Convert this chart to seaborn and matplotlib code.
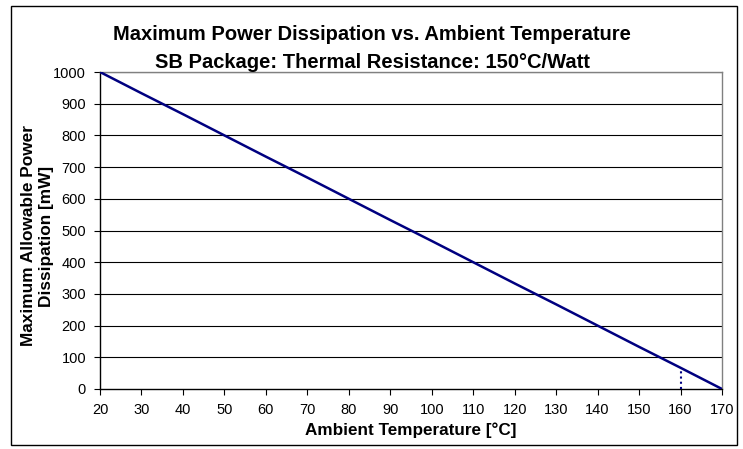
import matplotlib
matplotlib.use("Agg")
import matplotlib.pyplot as plt
import seaborn as sns
import pandas as pd
from matplotlib.patches import Rectangle

sns.set_theme(style="white")
plt.rcParams['font.family'] = ['Liberation Sans', 'DejaVu Sans']
plt.rcParams['text.color'] = 'black'
plt.rcParams['xtick.color'] = 'black'
plt.rcParams['ytick.color'] = 'black'

temps = [20, 30, 40, 50, 60, 70, 80, 90, 100, 110, 120, 130, 140, 150, 160, 170]
power = [1000, 933, 867, 800, 733, 667, 600, 533, 467, 400, 333, 267, 200, 133, 67, 0]
derate_x = [160, 160]
derate_y = [0, 67]
xticks = list(range(20, 171, 10))
yticks = list(range(0, 1001, 100))

title1 = "Maximum Power Dissipation vs. Ambient Temperature"
title2 = "SB Package: Thermal Resistance: 150°C/Watt"
xlabel = "Ambient Temperature [°C]"
ylabel = "Maximum Allowable Power\nDissipation [mW]"

df = pd.DataFrame({"T": temps, "P": power})

fig = plt.figure(figsize=(7.43, 4.49), dpi=100)
W, H = 743, 449
ax = fig.add_axes([100 / W, 1 - 389 / H, (722 - 100) / W, (389 - 72) / H])

ax.set_axisbelow(True)
for y in yticks[1:]:
    ax.axhline(y, color="black", lw=0.8, zorder=0)

sns.lineplot(data=df, x="T", y="P", ax=ax, color="#000080", lw=1.8, zorder=3)
ax.plot(derate_x, derate_y, color="#000080", lw=1.5, ls=(0, (1, 1.5)), zorder=3)

ax.set_xlim(20, 170)
ax.set_ylim(0, 1000)
ax.set_xticks(xticks)
ax.set_yticks(yticks)
ax.tick_params(axis="both", direction="out", length=4, width=0.8, color="black",
               labelcolor="black", labelsize=10.5, bottom=True, left=True)
ax.tick_params(axis="x", pad=6)
ax.tick_params(axis="y", pad=6)
ax.set_xlabel("")
ax.set_ylabel("")

for s in ["left", "bottom"]:
    ax.spines[s].set_color("black")
    ax.spines[s].set_linewidth(1.0)
for s in ["top", "right"]:
    ax.spines[s].set_color("#808080")
    ax.spines[s].set_linewidth(1.0)

fig.text(372 / W, 1 - 35 / H, title1, ha="center", va="center", fontsize=14.5,
         fontweight="bold", color="black")
fig.text(372 / W, 1 - 63 / H, title2, ha="center", va="center", fontsize=14.5,
         fontweight="bold", color="black")
fig.text(411 / W, 1 - 430 / H, xlabel, ha="center", va="center", fontsize=12.3,
         fontweight="bold", color="black")
fig.text(37.5 / W, 1 - 236 / H, ylabel, ha="center", va="center", rotation=90,
         fontsize=12.4, fontweight="bold", linespacing=1.25, color="black")

fig.patches.append(Rectangle((11 / W, 1 - 445 / H), (737 - 11) / W, (445 - 6) / H,
                             transform=fig.transFigure, fill=False, edgecolor="black", lw=1.0))

fig.savefig("out.png", dpi=100)
